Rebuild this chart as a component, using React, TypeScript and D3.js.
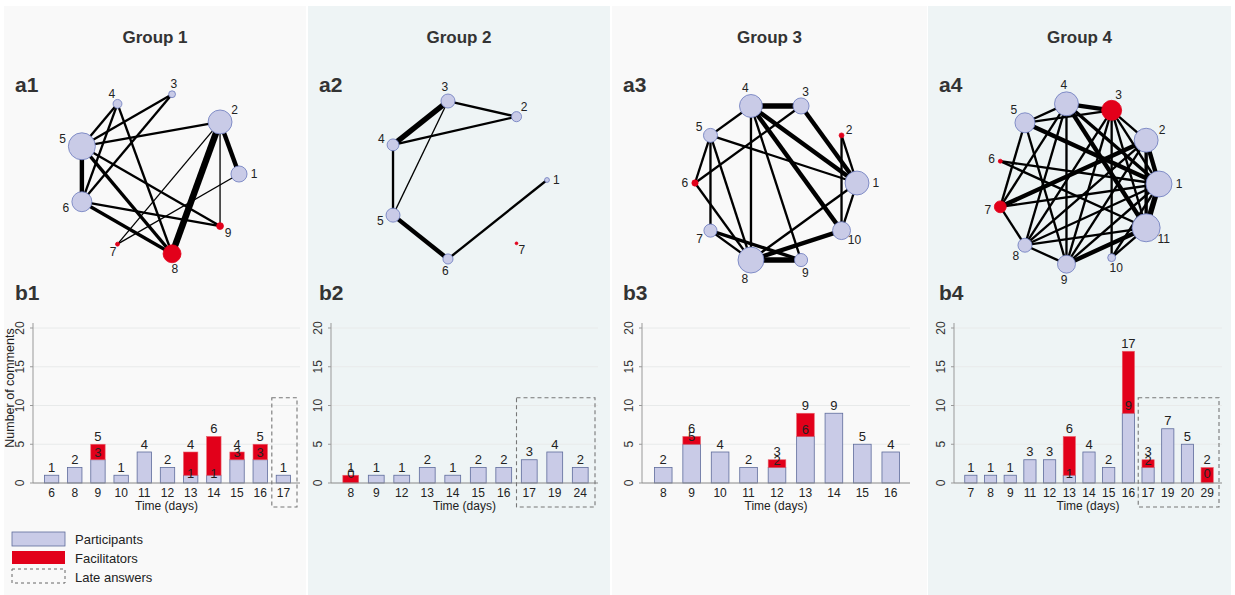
import React from "react";
import * as d3 from "d3";

const W = 1235;
const H = 595;
const FONT = "'Liberation Sans', Arial, Helvetica, sans-serif";

// ---- titles
const groupTitles = ["Group 1", "Group 2", "Group 3", "Group 4"];

// ---- network data: node weight (activity) per node, node i+1 at index i
const nodes1 = [33, 73, 6, 10, 93, 51, 2, 41, 6];
const nodes2 = [3, 13, 25, 18, 25, 13, 1];
const nodes3 = [73, 3, 33, 67, 25, 5, 22, 86, 22, 41];
const nodes4 = [86, 73, 51, 73, 51, 2, 18, 25, 41, 8, 100];

// facilitator nodes (red)
const facNodes1 = [7, 8, 9];
const facNodes2 = [7];
const facNodes3 = [2, 6];
const facNodes4 = [3, 6, 7];

// edges: [source, target, strength]
const edges1: [number, number, number][] = [
  [2, 1, 4], [2, 8, 6], [2, 9, 1], [2, 5, 2], [2, 7, 1], [1, 7, 1],
  [5, 6, 4], [5, 8, 3], [5, 9, 2], [5, 4, 2], [5, 3, 2],
  [6, 4, 2], [6, 3, 2], [6, 8, 3], [6, 9, 2], [4, 8, 2],
];
const edges2: [number, number, number][] = [
  [3, 4, 5], [3, 2, 2], [4, 2, 2], [3, 5, 1], [4, 5, 2], [5, 6, 4], [6, 1, 2],
];
const edges3: [number, number, number][] = [
  [4, 3, 5], [4, 5, 2], [4, 8, 2], [4, 9, 2], [4, 1, 4], [4, 10, 4],
  [3, 1, 4], [3, 6, 2], [5, 1, 2], [5, 6, 2], [5, 7, 2], [5, 8, 2],
  [2, 1, 2], [2, 10, 2], [1, 10, 2], [1, 8, 2], [10, 8, 4], [6, 8, 2],
  [7, 8, 2], [7, 9, 3], [8, 9, 5],
];
const edges4: [number, number, number][] = [
  [4, 3, 4], [4, 5, 2], [4, 7, 2], [4, 8, 2], [4, 9, 2], [4, 11, 4], [4, 1, 3],
  [3, 5, 2], [3, 2, 2], [3, 1, 2], [3, 11, 2], [3, 10, 2], [3, 9, 2], [3, 8, 2],
  [5, 1, 4], [5, 7, 2], [5, 9, 2],
  [2, 7, 4], [2, 1, 4], [2, 11, 3], [2, 8, 2], [2, 9, 2],
  [6, 1, 2], [6, 11, 2], [7, 8, 2], [7, 1, 2],
  [8, 9, 2], [8, 1, 2], [8, 11, 2], [9, 11, 4], [9, 1, 2],
  [10, 11, 2], [10, 1, 2], [11, 1, 5],
];

// ---- bar data
const days1 = [6, 8, 9, 10, 11, 12, 13, 14, 15, 16, 17];
const part1 = [1, 2, 3, 1, 4, 2, 1, 1, 3, 3, 1];
const facil1 = [0, 0, 2, 0, 0, 0, 3, 5, 1, 2, 0];
const late1 = [17];

const days2 = [8, 9, 12, 13, 14, 15, 16, 17, 19, 24];
const part2 = [0, 1, 1, 2, 1, 2, 2, 3, 4, 2];
const facil2 = [1, 0, 0, 0, 0, 0, 0, 0, 0, 0];
const late2 = [17, 19, 24];

const days3 = [8, 9, 10, 11, 12, 13, 14, 15, 16];
const part3 = [2, 5, 4, 2, 2, 6, 9, 5, 4];
const facil3 = [0, 1, 0, 0, 1, 3, 0, 0, 0];
const late3: number[] = [];

const days4 = [7, 8, 9, 11, 12, 13, 14, 15, 16, 17, 19, 20, 29];
const part4 = [1, 1, 1, 3, 3, 1, 4, 2, 9, 2, 7, 5, 0];
const facil4 = [0, 0, 0, 0, 0, 5, 0, 0, 8, 1, 0, 0, 2];
const late4 = [17, 19, 20, 29];

const yTicks = [0, 5, 10, 15, 20];
const lateBoxTop = 11;

const legendItems = ["Participants", "Facilitators", "Late answers"];

// ---- colours
const PART_FILL = "#c9cbe7";
const PART_STROKE = "#5f6c9c";
const NODE_STROKE = "#6a78bd";
const RED = "#e2001a";

// ---- layout
const panels = [
  { x: 4, w: 302, bg: "#f9f9f9", cx: 158, cy: 174, ax0: 33, ax1: 300 },
  { x: 308, w: 302, bg: "#eef4f5", cx: 466, cy: 180, ax0: 331, ax1: 598 },
  { x: 612, w: 315, bg: "#f9f9f9", cx: 776, cy: 183, ax0: 642, ax1: 910 },
  { x: 928, w: 303, bg: "#eef4f5", cx: 1078, cy: 184, ax0: 954, ax1: 1222 },
];
const RING = 81;

const networks = [
  { nodes: nodes1, fac: facNodes1, edges: edges1 },
  { nodes: nodes2, fac: facNodes2, edges: edges2 },
  { nodes: nodes3, fac: facNodes3, edges: edges3 },
  { nodes: nodes4, fac: facNodes4, edges: edges4 },
];
const bars = [
  { days: days1, part: part1, facil: facil1, late: late1 },
  { days: days2, part: part2, facil: facil2, late: late2 },
  { days: days3, part: part3, facil: facil3, late: late3 },
  { days: days4, part: part4, facil: facil4, late: late4 },
];

const rScale = d3.scaleSqrt().domain([0, 100]).range([0, 14]);
const wScale = d3.scaleLinear().domain([1, 6]).range([1.3, 6.5]);

const Network: React.FC<{ idx: number }> = ({ idx }) => {
  const { nodes, fac, edges } = networks[idx];
  const { cx, cy } = panels[idx];
  const n = nodes.length;
  const ang = d3.scaleLinear().domain([0, n]).range([0, -2 * Math.PI]);
  const pos = nodes.map((_, i) => [cx + RING * Math.cos(ang(i)), cy + RING * Math.sin(ang(i))]);
  return (
    <g>
      {edges.map(([s, t, w], i) => (
        <line key={i} x1={pos[s - 1][0]} y1={pos[s - 1][1]} x2={pos[t - 1][0]} y2={pos[t - 1][1]}
          stroke="#000" strokeWidth={wScale(w)} />
      ))}
      {nodes.map((v, i) => {
        const r = rScale(v);
        const isFac = fac.includes(i + 1);
        const d = r + 7;
        return (
          <g key={i}>
            <circle cx={pos[i][0]} cy={pos[i][1]} r={r}
              fill={isFac ? RED : PART_FILL} stroke={isFac ? RED : NODE_STROKE} strokeWidth={0.8} />
            <text x={pos[i][0] + d * Math.cos(ang(i))} y={pos[i][1] + d * Math.sin(ang(i))}
              textAnchor="middle" dominantBaseline="central" fontSize={12} fill="#222">{i + 1}</text>
          </g>
        );
      })}
    </g>
  );
};

const Bars: React.FC<{ idx: number }> = ({ idx }) => {
  const { days, part, facil, late } = bars[idx];
  const { ax0, ax1 } = panels[idx];
  const y = d3.scaleLinear().domain([0, 20]).range([483, 328]);
  const x = d3.scalePoint<string>().domain(days.map(String)).range([ax0 + 7, ax1 - 5]).padding(0.5);
  const step = x.step();
  const bw = step * 0.62;
  const lateFirst = late.length ? x(String(late[0]))! : 0;
  const lateLast = late.length ? x(String(late[late.length - 1]))! : 0;
  return (
    <g fontFamily={FONT}>
      {yTicks.slice(1).map((t) => (
        <line key={t} x1={ax0} x2={ax1} y1={y(t)} y2={y(t)} stroke="#e8eaea" strokeWidth={1} />
      ))}
      <line x1={ax0} x2={ax0} y1={y(0)} y2={y(20) - 5} stroke="#999" strokeWidth={1} />
      {yTicks.map((t) => (
        <g key={t}>
          <line x1={ax0 - 3} x2={ax0} y1={y(t)} y2={y(t)} stroke="#999" />
          <text transform={`translate(${ax0 - 9},${y(t)}) rotate(-90)`} textAnchor="middle"
            fontSize={12} fill="#333">{t}</text>
        </g>
      ))}
      {days.map((d, i) => {
        const cxv = x(String(d))!;
        const total = part[i] + facil[i];
        const innerY = part[i] <= 1 ? y(0) - 5 : y(part[i]) - 3;
        return (
          <g key={d}>
            {part[i] > 0 && (
              <rect x={cxv - bw / 2} y={y(part[i])} width={bw} height={y(0) - y(part[i])}
                fill={PART_FILL} stroke={PART_STROKE} strokeWidth={0.8} />
            )}
            {facil[i] > 0 && (
              <rect x={cxv - bw / 2} y={y(total)} width={bw} height={y(part[i]) - y(total)}
                fill={RED} stroke="#e8606a" strokeWidth={0.6} />
            )}
            <text x={cxv} y={y(total) - 3.5} textAnchor="middle" fontSize={13} fill="#222">{total}</text>
            {facil[i] > 0 && (
              <text x={cxv} y={innerY} textAnchor="middle" fontSize={13} fill="#222">{part[i]}</text>
            )}
            <text x={cxv} y={497} textAnchor="middle" fontSize={12} fill="#222">{d}</text>
          </g>
        );
      })}
      <line x1={ax0} x2={ax1} y1={y(0)} y2={y(0)} stroke="#888" strokeWidth={1} />
      <text x={(ax0 + ax1) / 2} y={510} textAnchor="middle" fontSize={12} fill="#222">Time (days)</text>
      {late.length > 0 && (
        <rect x={lateFirst - step / 2} y={y(lateBoxTop)} width={lateLast - lateFirst + step + 2}
          height={507 - y(lateBoxTop)} fill="none" stroke="#777" strokeWidth={1.1} strokeDasharray="4,3" />
      )}
      {idx === 0 && (
        <text transform="translate(14,388) rotate(-90)" textAnchor="middle"
          fontSize={12.5} fill="#222">Number of comments</text>
      )}
    </g>
  );
};

const App: React.FC = () => {
  return (
    <svg width={W} height={H} style={{ position: "absolute", left: 0, top: 0, background: "#fff" }}
      fontFamily={FONT}>
      {panels.map((p, i) => (
        <rect key={i} x={p.x} y={6} width={p.w} height={H - 6} fill={p.bg} />
      ))}
      {panels.map((p, i) => (
        <g key={i}>
          <text x={p.x + p.w / 2} y={43} textAnchor="middle" fontSize={17} fontWeight="bold" fill="#333">
            {groupTitles[i]}
          </text>
          <text x={p.x + 11} y={92} fontSize={21} fontWeight="bold" fill="#333">{`a${i + 1}`}</text>
          <text x={p.x + 11} y={300} fontSize={21} fontWeight="bold" fill="#333">{`b${i + 1}`}</text>
          <Network idx={i} />
          <Bars idx={i} />
        </g>
      ))}
      <g>
        <rect x={12} y={532} width={53} height={14} fill={PART_FILL} stroke={PART_STROKE} strokeWidth={0.8} />
        <rect x={12} y={551} width={53} height={13} fill={RED} />
        <rect x={12} y={569} width={53} height={14} fill="none" stroke="#666" strokeWidth={1} strokeDasharray="3,3" />
        {legendItems.map((t, i) => (
          <text key={t} x={75} y={544 + i * 19} fontSize={13} fill="#222">{t}</text>
        ))}
      </g>
    </svg>
  );
};

export default App;
